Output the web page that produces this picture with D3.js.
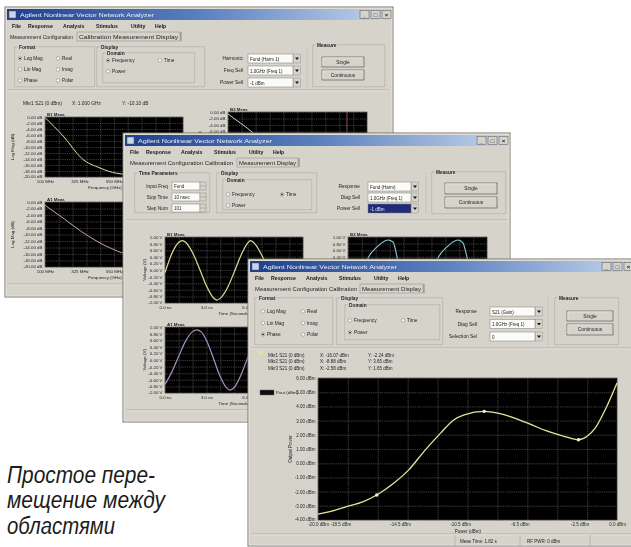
<!DOCTYPE html>
<html><head><meta charset="utf-8">
<script src="https://cdn.jsdelivr.net/npm/d3@7/dist/d3.min.js"></script>
<style>
html,body{margin:0;padding:0;background:#fff;overflow:hidden}
svg{display:block}
</style></head><body>
<svg id="c" width="631" height="547" xmlns="http://www.w3.org/2000/svg"></svg>
<script>
// ================= DATA =================
const windowTitle = "Agilent Nonlinear Vector Network Analyzer";
const menuItems = ["File","Response","Analysis","Stimulus","Utility","Help"];
const formatOptions = ["Log Mag","Lin Mag","Phase","Real","Imag","Polar"];
const domainOptions = ["Frequency","Time","Power"];
const captionLines = ["Простое пере-","мещение между","областями"];

// front window: output power vs input power (dBm)
const frontPin  = [-20,-19.21,-18.09,-16.97,-16.07,-14.94,-13.93,-12.92,-11.80,-10.90,-10.22,-8.88,-7.98,-6.85,-5.73,-4.61,-3.48,-2.58,-2.02,-1.46,-0.79,0];
const frontPout = [-3.58,-3.41,-3.06,-2.71,-2.24,-1.41,-0.47,0.82,2.12,3.06,3.41,3.65,3.53,3.18,2.71,2.24,1.88,1.65,1.88,2.47,3.76,5.65];
const frontMarkerIdx = [4,11,17];
const frontYTicks  = [-4,-3,-2,-1,0,1,2,3,4,5,6];
const frontYLabels = ["-4.00 dBm","-3.00 dBm","-2.00 dBm","-1.00 dBm","0.00 dBm","1.00 dBm","2.00 dBm","3.00 dBm","4.00 dBm","5.00 dBm","6.00 dBm"];
const frontXGrid   = [-20,-18,-16,-14,-12,-10,-8,-6,-4,-2,0];
const frontXTicks  = [-20,-18.5,-14.5,-10.5,-6.5,-2.5,0];
const frontXLabels = ["-20.0 dBm","-18.5 dBm","-14.5 dBm","-10.5 dBm","-6.5 dBm","-2.5 dBm","0.0 dBm"];

// back window: magnitude (dB) vs frequency (GHz)
const backFreqGrid   = [0.1,0.19,0.28,0.37,0.46,0.55,0.64,0.73,0.82,0.91,1.0];
const backFreqTicks  = [0.1,0.325,0.55,0.775,1.0];
const backFreqLabels = ["100 MHz","325 MHz","550 MHz","775 MHz","1.000 GHz"];
const backDbTicks    = [-20,-18,-16,-14,-12,-10,-8,-6,-4,-2,0];
const backDbLabels   = ["-20.00 dB","-18.00 dB","-16.00 dB","-14.00 dB","-12.00 dB","-10.00 dB","-8.00 dB","-6.00 dB","-4.00 dB","-2.00 dB","0.00 dB"];
const backB1Freq = [0.1,0.224,0.339,0.459,0.568,0.719,0.85,1.0];
const backB1Db   = [-0.2,-6.66,-13.77,-17.0,-18.77,-19.4,-19.7,-19.8];
const backA1Freq = [0.1,0.226,0.339,0.459,0.610,0.847,1.0];
const backA1Db   = [-1.0,-5.23,-9.14,-12.62,-15.78,-18.46,-19.4];
const backB2Freq = [0.1,0.126,0.256,0.437,0.64,1.0];
const backB2Db   = [-0.6,-1.54,-6.16,-14.8,-17.0,-17.8];
const backB2MarkerFreq = [0.87];

// middle window: voltage (V) vs time (ns)
const midTimeGrid  = [0,1,2,3,4,5,6,7,8,9,10];
const midTimeTicks = [0,3,6,9];
const midTimeLabels= ["0.0 ns","3.0 ns","6.0 ns","9.0 ns"];
const midVTicks    = [-1,-0.8,-0.6,-0.4,-0.2,0,0.2,0.4,0.6,0.8,1];
const midVLabels   = ["-1.00 V","-0.80 V","-0.60 V","-0.40 V","-0.20 V","0.00 V","0.20 V","0.40 V","0.60 V","0.80 V","1.00 V"];
const midB1Time = [0,0.5,1.0,1.25,1.5,2.0,2.5,3.0,3.5,3.75,4.0,4.5,5.0,5.5,6.0,6.2,6.5,7.0,7.5,8.0,8.5,8.7,9.0,9.5,10];
const midB1Volt = [-0.08,0.5,0.84,0.89,0.84,0.52,0.04,-0.48,-0.84,-0.91,-0.86,-0.56,-0.08,0.44,0.82,0.89,0.8,0.46,-0.02,-0.5,-0.84,-0.91,-0.84,-0.52,-0.04];
const midA1Time = [0,0.5,1.0,1.5,2.0,2.3,2.6,3.0,3.5,4.0,4.5,4.7,5.0,5.5,6.0,6.5,7.0,7.5,8.0,8.5,9.0,9.5,10];
const midA1Volt = [-0.74,-0.36,0.12,0.58,0.86,0.91,0.86,0.6,0.06,-0.5,-0.86,-0.91,-0.84,-0.46,0.08,0.6,0.9,0.8,0.4,-0.14,-0.62,-0.9,-0.8];
const midB2Time = [0,0.17,0.8,1.44,2.09,2.88,3.24,3.53,3.9,4.5,5.2,5.8,6.47,7.12,7.91,8.27,8.56,9.0,9.6,10];
const midB2Volt = [-0.8,-0.88,-0.5,0.36,0.7,0.91,0.85,0.39,-0.4,-0.84,-0.88,-0.5,0.36,0.7,0.91,0.82,0.39,-0.4,-0.84,-0.88];

// ================= DRAWING =================
const FONT = "'Liberation Sans', Arial, sans-serif";
const BG = "#d6d3cb";
const svg = d3.select("#c");
svg.append("rect").attr("width",631).attr("height",547).attr("fill","#ffffff");
const defs = svg.append("defs");
const tg = defs.append("linearGradient").attr("id","tb").attr("x1","0").attr("x2","1").attr("y1","0").attr("y2","0");
tg.append("stop").attr("offset","0").attr("stop-color","#1f3f8c");
tg.append("stop").attr("offset","0.5").attr("stop-color","#5a7fbf");
tg.append("stop").attr("offset","1").attr("stop-color","#c3d4ec");
defs.append("filter").attr("id","soft").append("feGaussianBlur").attr("stdDeviation",0.35);

const windows = [];

function txt(g,x,y,s,o={}){
  const t = g.append("text").attr("x",x).attr("y",y).text(s)
    .attr("font-family",FONT).attr("font-size",o.size||4.8)
    .attr("fill",o.fill||"#1e1e1e").attr("text-anchor",o.anchor||"start");
  if(o.bold) t.attr("font-weight","bold");
  if(o.len) t.attr("textLength",o.len).attr("lengthAdjust","spacingAndGlyphs");
  return t;
}
function line(g,x1,y1,x2,y2,c,w,dash){
  const l = g.append("line").attr("x1",x1).attr("y1",y1).attr("x2",x2).attr("y2",y2)
    .attr("stroke",c).attr("stroke-width",w||0.6);
  if(dash) l.attr("stroke-dasharray",dash);
  return l;
}
function sep(g,x1,x2,y){ line(g,x1,y,x2,y,"#97948c"); line(g,x1,y+0.8,x2,y+0.8,"#f6f4ef"); }
function groupBox(g,x,y,w,h,label){
  g.append("rect").attr("x",x+0.7).attr("y",y+0.7).attr("width",w).attr("height",h)
    .attr("fill","none").attr("stroke","#f6f4ef").attr("stroke-width",0.6);
  g.append("rect").attr("x",x).attr("y",y).attr("width",w).attr("height",h)
    .attr("fill","none").attr("stroke","#97948c").attr("stroke-width",0.6);
  if(label){
    const bg = g.append("rect").attr("fill",BG);
    const t = txt(g,x+4,y+1.8,label,{bold:true,size:4.8});
    const L = t.node().getComputedTextLength();
    bg.attr("x",x+3).attr("y",y-2).attr("width",L+2).attr("height",5);
  }
}
function radio(g,x,y,label,on){
  g.append("circle").attr("cx",x).attr("cy",y-1.6).attr("r",1.8)
    .attr("fill","#fbfbf8").attr("stroke","#77746d").attr("stroke-width",0.5);
  if(on) g.append("circle").attr("cx",x).attr("cy",y-1.6).attr("r",0.9).attr("fill","#111");
  txt(g,x+4,y,label);
}
function dropdown(g,x,y,w,h,label,sel){
  g.append("rect").attr("x",x).attr("y",y).attr("width",w).attr("height",h)
    .attr("fill",sel?"#202c7a":"#fbfbf8").attr("stroke","#7f7c76").attr("stroke-width",0.5);
  g.append("rect").attr("x",x+w+0.5).attr("y",y).attr("width",7).attr("height",h)
    .attr("fill",BG).attr("stroke","#8a877f").attr("stroke-width",0.4);
  g.append("path").attr("d",`M${x+w+2},${y+h/2-1}l4,0l-2,2.5z`).attr("fill","#111");
  txt(g,x+2,y+h-2.4,label,{fill:sel?"#e8ecff":"#222",size:4.5});
}
function button(g,x,y,w,h,label){
  g.append("rect").attr("x",x).attr("y",y).attr("width",w).attr("height",h)
    .attr("fill",BG).attr("stroke","#4a4843").attr("stroke-width",0.6);
  line(g,x+0.8,y+0.8,x+w-1,y+0.8,"#f8f6f1",0.6);
  line(g,x+0.8,y+0.8,x+0.8,y+h-1,"#f8f6f1",0.6);
  txt(g,x+w/2,y+h/2+1.7,label,{anchor:"middle"});
}
function inputBox(g,x,y,w,h,val){
  g.append("rect").attr("x",x).attr("y",y).attr("width",w).attr("height",h)
    .attr("fill","#fbfbf8").attr("stroke","#7f7c76").attr("stroke-width",0.5);
  g.append("rect").attr("x",x+w).attr("y",y).attr("width",6).attr("height",h)
    .attr("fill",BG).attr("stroke","#7f7c76").attr("stroke-width",0.4);
  line(g,x+w,y+h/2,x+w+6,y+h/2,"#7f7c76",0.4);
  txt(g,x+2,y+h-2.2,val,{size:4.5});
}

function frame(o){
  const g = svg.append("g").attr("filter","url(#soft)");
  windows.push({g, x:o.x, y:o.y, w:o.w, h:o.h});
  g.append("rect").attr("x",o.x).attr("y",o.y).attr("width",o.w).attr("height",o.h)
    .attr("fill",BG).attr("stroke","#77746d").attr("stroke-width",1);
  g.append("rect").attr("x",o.x+1).attr("y",o.y+1).attr("width",o.w-2).attr("height",o.h-2)
    .attr("fill","none").attr("stroke","#f3f1eb").attr("stroke-width",0.6);
  g.append("rect").attr("x",o.x+2).attr("y",o.y+2).attr("width",o.w-4).attr("height",11).attr("fill","url(#tb)");
  g.append("rect").attr("x",o.x+4).attr("y",o.y+4).attr("width",7).attr("height",7)
    .attr("fill","#cdd5e2").attr("stroke","#3f4f72").attr("stroke-width",0.5);
  txt(g,o.x+15,o.y+10.3,windowTitle,{size:6.2,fill:"#edf1f9",len:134});
  const R = o.x+o.w;
  [["_",33],["□",22],["×",11]].forEach(([s,dx])=>{
    g.append("rect").attr("x",R-dx).attr("y",o.y+3.5).attr("width",9).attr("height",8)
      .attr("fill",BG).attr("stroke","#55524c").attr("stroke-width",0.5);
    txt(g,R-dx+4.5,o.y+10,s,{size:6,bold:true,anchor:"middle",fill:"#222"});
  });
  const menuX = [7,23,58,91,126,150];
  menuItems.forEach((m,i)=>txt(g,o.x+menuX[i],o.y+20.5,m,{size:5.2,bold:true,fill:"#151515"}));
  txt(g,o.x+o.pathX,o.y+31.5,o.pathText,{size:4.7,len:o.pathW});
  g.append("rect").attr("x",o.x+o.tabX).attr("y",o.y+25).attr("width",o.tabW).attr("height",9)
    .attr("fill",BG).attr("stroke","#8a877f").attr("stroke-width",0.5);
  line(g,o.x+o.tabX+o.tabW+1,o.y+25,o.x+o.tabX+o.tabW+1,o.y+34,"#55524c",0.6);
  txt(g,o.x+o.tabX+2,o.y+31.5,o.tabText,{size:4.7,len:o.tabW-4});
  return g;
}

function chart(g,o){
  const x = d3.scaleLinear().domain(o.xDomain).range([o.x0,o.x1]);
  const y = d3.scaleLinear().domain(o.yDomain).range([o.y1,o.y0]);
  const fs = o.fs||4.4;
  g.append("rect").attr("x",o.x0).attr("y",o.y0).attr("width",o.x1-o.x0).attr("height",o.y1-o.y0)
    .attr("fill","#060606").attr("stroke","#3c3b38").attr("stroke-width",0.6);
  const gx = g.append("g").attr("transform",`translate(0,${o.y1})`)
    .call(d3.axisBottom(x).tickValues(o.xGrid).tickSize(-(o.y1-o.y0)).tickFormat(""));
  const gy = g.append("g").attr("transform",`translate(${o.x0},0)`)
    .call(d3.axisLeft(y).tickValues(o.yGrid).tickSize(-(o.x1-o.x0)).tickFormat(""));
  [gx,gy].forEach(a=>{
    a.select(".domain").remove();
    a.selectAll("line").attr("stroke","#6d6d6a").attr("stroke-width",0.5).attr("stroke-dasharray","1.2,1");
  });
  const yl = g.append("g").attr("transform",`translate(${o.x0-1},0)`)
    .call(d3.axisLeft(y).tickValues(o.yTicks).tickSize(0).tickPadding(1.5).tickFormat((d,i)=>o.yLabels[i]));
  const xl = g.append("g").attr("transform",`translate(0,${o.y1})`)
    .call(d3.axisBottom(x).tickValues(o.xTicks).tickSize(0).tickPadding(3.2).tickFormat((d,i)=>o.xLabels[i]));
  [yl,xl].forEach(a=>{
    a.select(".domain").remove();
    a.selectAll("text").attr("font-size",fs).attr("font-family",FONT).attr("fill","#262626");
  });
  // lift the lowest y label a little so it clears the x labels at the corner
  yl.selectAll("text").filter((d,i)=>i===0).attr("dy","0.05em");
  if(o.title) txt(g,o.x0+2,o.y0-1.4,o.title,{size:fs,bold:true});
  if(o.xTitle) txt(g,o.xTitleX,o.y1+o.xTitleDy,o.xTitle,{size:fs,anchor:"middle"});
  if(o.yTitle) txt(g,0,0,o.yTitle,{size:fs,anchor:"middle"})
     .attr("transform",`translate(${o.yTitleX},${(o.y0+o.y1)/2}) rotate(-90)`);
  const ln = d3.line().x(d=>x(d[0])).y(d=>y(d[1])).curve(d3.curveMonotoneX);
  o.series.forEach(s=>{
    g.append("path").datum(d3.zip(s.x,s.y)).attr("d",ln)
      .attr("fill","none").attr("stroke",s.color).attr("stroke-width",s.w||1);
  });
  return {x,y};
}

// ---------- back window ----------
const gb = frame({x:5,y:7,w:388,h:290,pathText:"Measurement Configuration",pathX:5,pathW:63,
                  tabX:72,tabW:103,tabText:"Calibration   Measurement Display"});
groupBox(gb,15,47,80,40,"Format");
formatOptions.forEach((f,i)=>radio(gb,i<3?20:58,60+(i%3)*11,f,i===0));
groupBox(gb,97,47,108,40,"Display");
groupBox(gb,103,53,92,30,"Domain");
radio(gb,108,62,domainOptions[0],true); radio(gb,160,62,domainOptions[1],false); radio(gb,108,73,domainOptions[2],false);
["Harmonic","Freq Sell","Power Sell"].forEach((l,i)=>txt(gb,243,60+i*12,l,{anchor:"end"}));
["Fund (Harm 1)","1.0GHz (Freq 1)","-1 dBm"].forEach((l,i)=>dropdown(gb,248,54+i*12,45,9,l,false));
line(gb,307,46,307,88,"#97948c",0.5,"1,1");
groupBox(gb,313,45,72,42,"Measure");
button(gb,322,57,42,10,"Single"); button(gb,322,70,42,10,"Continuous");
sep(gb,8,390,90);
txt(gb,23,104.5,"Mkr1  S21 (0 dBm)"); txt(gb,72,104.5,"X: 1.000 GHz"); txt(gb,122,104.5,"Y: -10.10 dB");
chart(gb,{x0:45,x1:183,y0:117,y1:177,xDomain:[0.1,1.0],yDomain:[-20,0],xGrid:backFreqGrid,yGrid:backDbTicks,
  xTicks:backFreqTicks,xLabels:backFreqLabels,yTicks:backDbTicks,yLabels:backDbLabels,title:"B1 Meas",
  xTitle:"Frequency (GHz)",xTitleX:105,xTitleDy:11.5,yTitle:"Log Mag (dB)",yTitleX:14,
  series:[{x:backB1Freq,y:backB1Db,color:"#d9d99a"}]});
chart(gb,{x0:45,x1:183,y0:202,y1:267,xDomain:[0.1,1.0],yDomain:[-20,0],xGrid:backFreqGrid,yGrid:backDbTicks,
  xTicks:backFreqTicks,xLabels:backFreqLabels,yTicks:backDbTicks,yLabels:backDbLabels,title:"A1 Meas",
  xTitle:"Frequency (GHz)",xTitleX:105,xTitleDy:11.5,yTitle:"Log Mag (dB)",yTitleX:14,
  series:[{x:backA1Freq,y:backA1Db,color:"#c99ab4"}]});
const cb2 = chart(gb,{x0:228,x1:367,y0:112,y1:177,xDomain:[0.1,1.0],yDomain:[-20,0],xGrid:backFreqGrid,yGrid:backDbTicks,
  xTicks:backFreqTicks,xLabels:backFreqLabels,yTicks:backDbTicks,yLabels:backDbLabels,title:"B2 Meas",
  xTitle:"Frequency (GHz)",xTitleX:290,xTitleDy:11.5,yTitle:"Log Mag (dB)",yTitleX:201,
  series:[{x:backB2Freq,y:backB2Db,color:"#cfcfcf"}]});
backB2MarkerFreq.forEach(f=>line(gb,cb2.x(f),112,cb2.x(f),177,"#b0608e",0.7));
sep(gb,7,391,284);

// ---------- middle window ----------
const gm = frame({x:123,y:133,w:387,h:289,pathText:"Measurement Configuration Calibration",pathX:7,pathW:103,
                  tabX:114,tabW:61,tabText:"Measurement Display"});
groupBox(gm,135,173,75,40,"Time Parameters");
["Input Freq","Stop Time","Step Num"].forEach((l,i)=>{
  txt(gm,168,188+i*11,l,{anchor:"end"});
  inputBox(gm,172,182+i*11,28,8,["Fund","10 nsec","101"][i]);
});
groupBox(gm,217,173,100,40,"Display");
groupBox(gm,223,180,89,30,"Domain");
radio(gm,228,196,domainOptions[0],false); radio(gm,282,196,domainOptions[1],true); radio(gm,228,207,domainOptions[2],false);
["Response","Diag Sell","Power Sell"].forEach((l,i)=>txt(gm,360,188+i*11,l,{anchor:"end"}));
dropdown(gm,368,182,43,9,"Fund (Harm)",false);
dropdown(gm,368,193,43,9,"1.0GHz (Freq 1)",false);
dropdown(gm,368,204,43,9,"-1 dBm",true);
line(gm,426,172,426,214,"#97948c",0.5,"1,1");
groupBox(gm,432,172,74,42,"Measure");
button(gm,445,183,52,11,"Single"); button(gm,445,197,52,11,"Continuous");
sep(gm,126,507,220);
chart(gm,{x0:165,x1:303,y0:237,y1:303,xDomain:[0,10],yDomain:[-1,1],xGrid:midTimeGrid,yGrid:midVTicks,
  xTicks:midTimeTicks,xLabels:midTimeLabels,yTicks:midVTicks,yLabels:midVLabels,title:"B1 Meas",
  xTitle:"Time (Seconds)",xTitleX:234,xTitleDy:11.5,yTitle:"Voltage (V)",yTitleX:146,
  series:[{x:midB1Time,y:midB1Volt,color:"#dcdc9c",w:1.2}]});
chart(gm,{x0:165,x1:303,y0:327,y1:393,xDomain:[0,10],yDomain:[-1,1],xGrid:midTimeGrid,yGrid:midVTicks,
  xTicks:midTimeTicks,xLabels:midTimeLabels,yTicks:midVTicks,yLabels:midVLabels,title:"A1 Meas",
  xTitle:"Time (Seconds)",xTitleX:234,xTitleDy:11.5,yTitle:"Voltage (V)",yTitleX:146,
  series:[{x:midA1Time,y:midA1Volt,color:"#a98cc4",w:1.2}]});
chart(gm,{x0:348,x1:487,y0:237,y1:303,xDomain:[0,10],yDomain:[-1,1],xGrid:midTimeGrid,yGrid:midVTicks,
  xTicks:midTimeTicks,xLabels:midTimeLabels,yTicks:midVTicks,yLabels:midVLabels,title:"B2 Meas",
  xTitle:"Time (Seconds)",xTitleX:417,xTitleDy:11.5,yTitle:"Voltage (V)",yTitleX:329,
  series:[{x:midB2Time,y:midB2Volt,color:"#86c9d2",w:1.1}]});
sep(gm,126,507,410);

// ---------- front window ----------
const gf = frame({x:248,y:259,w:387,h:287,pathText:"Measurement Configuration Calibration",pathX:7,pathW:102,
                  tabX:112,tabW:63,tabText:"Measurement Display"});
groupBox(gf,255,298,78,47,"Format");
formatOptions.forEach((f,i)=>radio(gf,i<3?263:303,313+(i%3)*11.5,f,i===2));
groupBox(gf,337,298,106,47,"Display");
groupBox(gf,345,305,95,35,"Domain");
radio(gf,350,322,domainOptions[0],false); radio(gf,403,322,domainOptions[1],false); radio(gf,350,334,domainOptions[2],true);
["Response","Diag Sell","Selection Sel"].forEach((l,i)=>txt(gf,477,313+i*12.5,l,{anchor:"end"}));
dropdown(gf,490,307,45,9,"S21 (Gain)",false);
dropdown(gf,490,319.5,45,9,"1.0GHz (Freq 1)",false);
dropdown(gf,490,332,45,9,"0",false);
line(gf,548,298,548,345,"#97948c",0.5,"1,1");
groupBox(gf,555,298,64,47,"Measure");
button(gf,567,311,46,10,"Single"); button(gf,567,324,46,11,"Continuous");
sep(gf,251,631,348);
gf.append("rect").attr("x",259).attr("y",351).attr("width",3.5).attr("height",3.5).attr("fill","#e8e88a");
frontMarkerIdx.forEach((k,i)=>{
  const yy = 356.5+i*6.5;
  txt(gf,268,yy,`Mkr${i+1} S21 (0 dBm)`,{size:4.5});
  txt(gf,320,yy,`X: ${frontPin[k].toFixed(2)} dBm`,{size:4.5});
  txt(gf,368,yy,`Y: ${frontPout[k].toFixed(2)} dBm`,{size:4.5});
});
gf.append("rect").attr("x",260).attr("y",390).attr("width",14).attr("height",5).attr("fill","#0c0c0c").attr("stroke","#6a6a66").attr("stroke-width",0.5);
txt(gf,276,394.3,"Pout (dBm)",{size:4.4});
const cf = chart(gf,{x0:318,x1:617,y0:378,y1:520,xDomain:[-20,0],yDomain:[-4,6],xGrid:frontXGrid,yGrid:frontYTicks,
  xTicks:frontXTicks,xLabels:frontXLabels,yTicks:frontYTicks,yLabels:frontYLabels,fs:4.5,
  xTitle:"Power (dBm)",xTitleX:468,xTitleDy:12.8,yTitle:"Output Power",yTitleX:292,
  series:[{x:frontPin,y:frontPout,color:"#e3e39b",w:1.3}]});
frontMarkerIdx.forEach(k=>{
  gf.append("circle").attr("cx",cf.x(frontPin[k])).attr("cy",cf.y(frontPout[k])).attr("r",1.7)
    .attr("fill","#f2f2d8");
});
sep(gf,251,631,534);
line(gf,455,535,455,546,"#97948c",0.5); line(gf,520,535,520,546,"#97948c",0.5); line(gf,590,535,590,546,"#97948c",0.5);
txt(gf,460,543,"Meas Time: 1.82 s",{size:4.5});
txt(gf,527,543,"RF PWR: 0 dBm",{size:4.5});

// ---------- caption ----------
const capWidths = [148,158,108];
captionLines.forEach((s,i)=>{
  svg.append("text").attr("x",7).attr("y",482.5+i*25.5).text(s)
    .attr("font-family","'Liberation Sans',Arial,sans-serif")
    .attr("font-style","italic").attr("font-size",23).attr("fill","#1c1c1c")
    .attr("textLength",capWidths[i]).attr("lengthAdjust","spacingAndGlyphs");
});

// ---------- remove text fully hidden behind later windows ----------
windows.forEach((w,i)=>{
  const later = windows.slice(i+1);
  w.g.selectAll("text").each(function(){
    const r = this.getBoundingClientRect();
    if(later.some(L=> r.left>=L.x && r.right<=L.x+L.w && r.top>=L.y && r.bottom<=L.y+L.h)) this.remove();
  });
});
</script>
</body></html>
